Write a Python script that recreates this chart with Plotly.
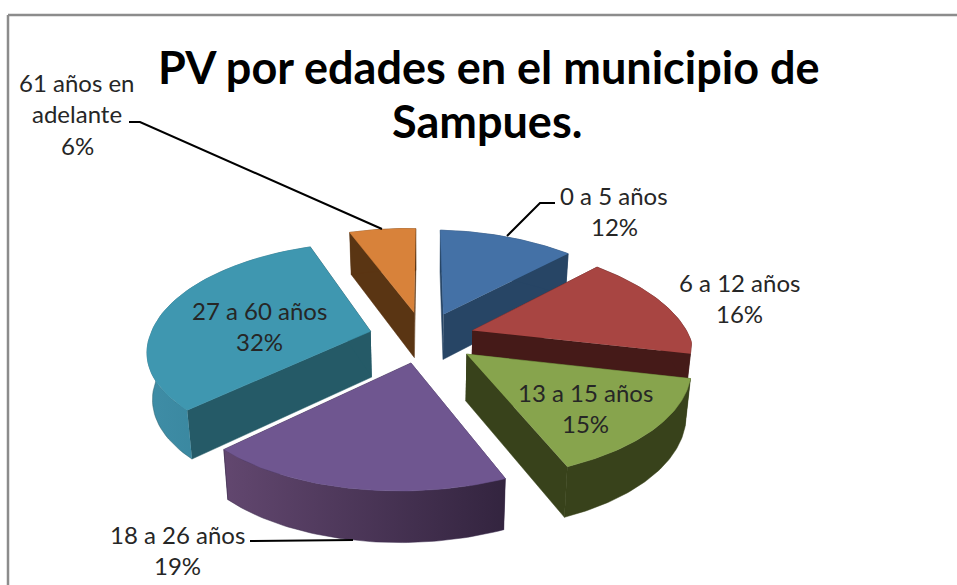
"""PV por edades: exploded 3D pie drawn as projected polygons."""

import numpy as np
import plotly.graph_objects as go

categories = ["0 a 5 años", "6 a 12 años", "13 a 15 años", "18 a 26 años", "27 a 60 años", "61 años en adelante"]
values = [12, 16, 15, 19, 32, 6]

top_colors = ["#4471A6", "#A84542", "#87A44D", "#6F5690", "#3F97B0", "#D8823A"]
radial_colors = ["#274565", "#451A18", "#38421B", "#3A2A4C", "#255A67", "#5A3513"]
arc_left = ["#274565", "#451A18", "#38421B", "#62476F", "#3F8DA6", "#5A3513"]
arc_right = ["#274565", "#451A18", "#38421B", "#33243F", "#2F7C93", "#5A3513"]
explode = [0.25, 0.235, 0.255, 0.25, 0.25, 0.25]
draw_order = [5, 0, 1, 4, 3, 2]

# chart geometry in page pixels
CX, CY = 424, 337
RX, RY = 219, 102
PERSPECTIVE = 0.14
SKEW = 17
TILT = 4
CONVERGE = 0.02
DEPTH = 46

# label text: (x centre, first line y)
label_pos = [(614, 195), (739, 282), (585, 392), (177, 534), (259, 310), (77, 82)]
label_lines = [
    ["0 a 5 años", "12%"],
    ["6 a 12 años", "16%"],
    ["13 a 15 años", "15%"],
    ["18 a 26 años", "19%"],
    ["27 a 60 años", "32%"],
    ["61 años en", "adelante", "6%"],
]
leaders = [
    ([555, 540, 507], [203, 203, 236]),
    ([250, 353], [541, 540]),
    ([129, 140, 382], [122, 122, 229]),
]


def project(theta, mid, radius, z, pull):
    ux = radius * np.sin(theta) + pull * np.sin(mid)
    uy = radius * np.cos(theta) + pull * np.cos(mid)
    s = 1 / (1 + PERSPECTIVE * uy)
    # the back of the pie narrows a little more than it drops
    x = RX * ux * s * (1 - 0.04 * np.maximum(uy, 0)) - SKEW * np.maximum(-uy, 0)
    y = CY - RY * uy * s + TILT * ux + DEPTH * z * s**0.6
    return CX + x * (1 - CONVERGE * z), y


def poly(fig, xs, ys, color, gradient=None):
    trace = dict(x=xs, y=ys, mode="lines", fill="toself", line=dict(width=0.5, color=color),
                 hoverinfo="skip", showlegend=False)
    if gradient:
        trace["fillgradient"] = dict(type="horizontal", colorscale=[[0, gradient[0]], [1, gradient[1]]])
    else:
        trace["fillcolor"] = color
    fig.add_trace(go.Scatter(**trace))


fig = go.Figure()
edges = np.radians(np.cumsum([0] + values) * 3.6)

for i in draw_order:
    start, end = edges[i], edges[i + 1]
    mid = (start + end) / 2
    arc = np.linspace(start, end, 60)
    ax, ay = project(arc, mid, 1, 0, explode[i])
    bx, by = project(arc, mid, 1, 1, explode[i])
    ox, oy = project(mid, mid, 0, 0, explode[i])
    px, py = project(mid, mid, 0, 1, explode[i])
    # radial walls, then the rim, then the top face
    poly(fig, [ox, ax[0], bx[0], px], [oy, ay[0], by[0], py], radial_colors[i])
    poly(fig, [ox, ax[-1], bx[-1], px], [oy, ay[-1], by[-1], py], radial_colors[i])
    poly(fig, list(ax) + list(bx[::-1]), list(ay) + list(by[::-1]), radial_colors[i], (arc_left[i], arc_right[i]))
    poly(fig, [ox] + list(ax), [oy] + list(ay), top_colors[i])

for lx, ly in leaders:
    fig.add_trace(go.Scatter(x=lx, y=ly, mode="lines", line=dict(color="black", width=2),
                             hoverinfo="skip", showlegend=False))

for (x, y), lines in zip(label_pos, label_lines):
    for n, line in enumerate(lines):
        fig.add_annotation(x=x, y=y + n * 31.5, text=line, showarrow=False,
                           font=dict(family="Lato", size=24, color="#262626"))

fig.add_annotation(x=489, y=67, text="<b>PV por edades en el municipio de</b>", showarrow=False,
                   font=dict(family="Lato", size=45, color="black"))
fig.add_annotation(x=487, y=121, text="<b>Sampues.</b>", showarrow=False,
                   font=dict(family="Lato", size=45, color="black"))

fig.add_shape(type="line", x0=8, y0=15, x1=957, y1=15, line=dict(color="#8C8C8C", width=2.5))
fig.add_shape(type="line", x0=8, y0=15, x1=8, y1=585, line=dict(color="#8C8C8C", width=2.5))

fig.update_layout(
    width=957, height=585, margin=dict(l=0, r=0, t=0, b=0),
    paper_bgcolor="white", plot_bgcolor="white", showlegend=False,
    xaxis=dict(range=[0, 957], visible=False, fixedrange=True),
    yaxis=dict(range=[585, 0], visible=False, fixedrange=True),
)

# the page's default body margin would push the chart 8px right and down
fig.write_html("out.html", config={"displayModeBar": False},
               post_script="document.body.style.margin='0';document.body.style.overflow='hidden';")
